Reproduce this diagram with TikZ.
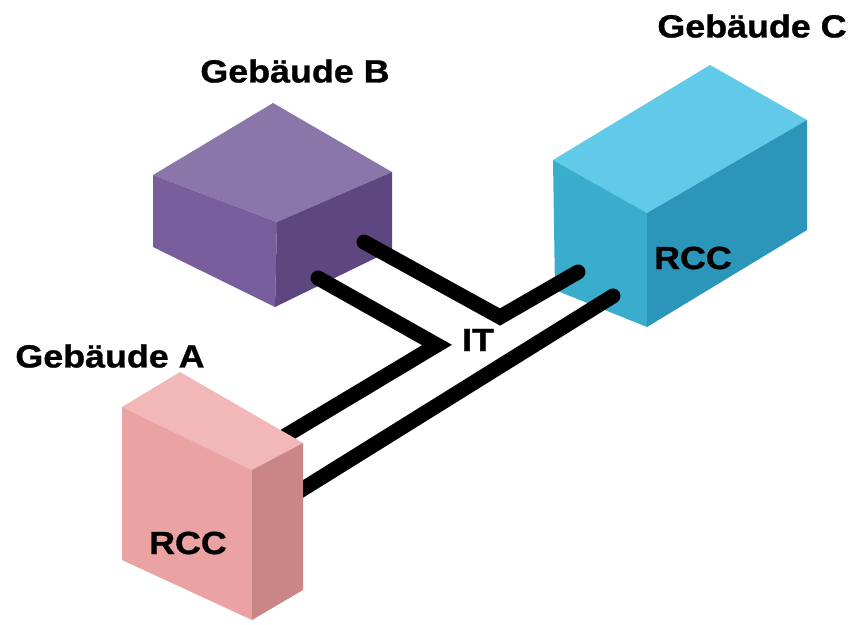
\documentclass[tikz,border=0pt]{standalone}
\usepackage{fontspec}
\setmainfont{Liberation Sans}
\newfontfamily\heavyfont{Liberation Sans Bold}[FakeBold=0.9]
\begin{document}
\begin{tikzpicture}[x=1pt,y=-1pt,
  lbl/.style={font=\heavyfont\fontsize{32}{38}\selectfont, xscale=1.12, inner sep=0pt},
  cable/.style={line width=15pt, line cap=round, black}]
\definecolor{bTop}{RGB}{139,118,170}
\definecolor{bLeft}{RGB}{120,94,156}
\definecolor{bRight}{RGB}{94,70,128}
\definecolor{cTop}{RGB}{96,202,232}
\definecolor{cLeft}{RGB}{58,172,206}
\definecolor{cRight}{RGB}{44,150,186}
\definecolor{aTop}{RGB}{242,184,184}
\definecolor{aLeft}{RGB}{234,162,162}
\definecolor{aRight}{RGB}{202,134,134}
\useasboundingbox (0,0) rectangle (856,624);

% Gebaeude B
\coordinate (bT) at (273,103);
\coordinate (bL) at (153,175);
\coordinate (bF) at (277,222);
\coordinate (bR) at (392,172);
\coordinate (bLb) at (153,247);
\coordinate (bFb) at (275,307);
\coordinate (bRb) at (392,250);
\fill[bTop] (bT) -- (bL) -- (bF) -- (bR) -- cycle;
\fill[bLeft] (bL) -- (bF) -- (bFb) -- (bLb) -- cycle;
\fill[bRight] (bF) -- (bR) -- (bRb) -- (bFb) -- cycle;

% Gebaeude C
\coordinate (cT) at (710,65);
\coordinate (cL) at (553,160);
\coordinate (cF) at (647,213);
\coordinate (cR) at (807,120);
\coordinate (cLb) at (555,290);
\coordinate (cFb) at (647,327);
\coordinate (cRb) at (807,230);
\fill[cTop] (cT) -- (cL) -- (cF) -- (cR) -- cycle;
\fill[cLeft] (cL) -- (cF) -- (cFb) -- (cLb) -- cycle;
\fill[cRight] (cF) -- (cR) -- (cRb) -- (cFb) -- cycle;

% cable ends and bends
\coordinate (b1) at (364,242);
\coordinate (k1) at (500,317);
\coordinate (c1) at (578,272);
\coordinate (b2) at (318,278);
\coordinate (k2) at (437,345);
\coordinate (a2) at (285,436);
\coordinate (c3) at (613,296);
\coordinate (a3) at (290,497);
\draw[cable] (b1) -- (k1) -- (c1);
\draw[cable] (b2) -- (k2) -- (a2);
\draw[cable] (c3) -- (a3);

% Gebaeude A
\coordinate (aT) at (180,372);
\coordinate (aL) at (122,407);
\coordinate (aF) at (252,470);
\coordinate (aR) at (303,443);
\coordinate (aLb) at (122,560);
\coordinate (aFb) at (252,620);
\coordinate (aRb) at (303,590);
\fill[aTop] (aT) -- (aL) -- (aF) -- (aR) -- cycle;
\fill[aLeft] (aL) -- (aF) -- (aFb) -- (aLb) -- cycle;
\fill[aRight] (aF) -- (aR) -- (aRb) -- (aFb) -- cycle;

% labels
\node[lbl] (labB) at (295,71) {Gebäude B};
\node[lbl] (labC) at (752,26) {Gebäude C};
\node[lbl] (labA) at (110,356) {Gebäude A};
\node[lbl] (it) at (478,340) {IT};
\node[lbl] (rccC) at (693,258) {RCC};
\node[lbl] (rccA) at (188,543) {RCC};
\end{tikzpicture}
\end{document}
